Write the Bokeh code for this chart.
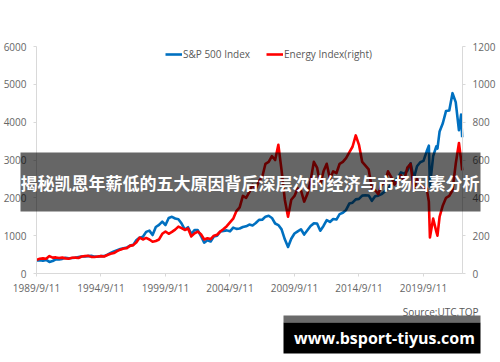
from bokeh.plotting import figure
from bokeh.models import (Range1d, LinearAxis, FixedTicker, Legend, LegendItem,
                          Label, BoxAnnotation)
from bokeh.embed import file_html
from bokeh.resources import INLINE

# ---------------- data ----------------
dates = [
    "1989-09", "1989-12", "1990-03", "1990-06", "1990-09", "1990-12",
    "1991-03", "1991-06", "1991-09", "1991-12", "1992-03", "1992-06",
    "1992-09", "1992-12", "1993-03", "1993-06", "1993-09", "1993-12",
    "1994-03", "1994-06", "1994-09", "1994-12", "1995-03", "1995-06",
    "1995-09", "1995-12", "1996-03", "1996-06", "1996-09", "1996-12",
    "1997-03", "1997-06", "1997-09", "1997-12", "1998-03", "1998-06",
    "1998-09", "1998-12", "1999-03", "1999-06", "1999-09", "1999-12",
    "2000-03", "2000-06", "2000-09", "2000-12", "2001-03", "2001-06",
    "2001-09", "2001-12", "2002-03", "2002-06", "2002-09", "2002-12",
    "2003-03", "2003-06", "2003-09", "2003-12", "2004-03", "2004-06",
    "2004-09", "2004-12", "2005-03", "2005-06", "2005-09", "2005-12",
    "2006-03", "2006-06", "2006-09", "2006-12", "2007-03", "2007-06",
    "2007-09", "2007-12", "2008-03", "2008-06", "2008-09", "2008-12",
    "2009-03", "2009-06", "2009-09", "2009-12", "2010-03", "2010-06",
    "2010-09", "2010-12", "2011-03", "2011-06", "2011-09", "2011-12",
    "2012-03", "2012-06", "2012-09", "2012-12", "2013-03", "2013-06",
    "2013-09", "2013-12", "2014-03", "2014-06", "2014-09", "2014-12",
    "2015-03", "2015-06", "2015-09", "2015-12", "2016-03", "2016-06",
    "2016-09", "2016-12", "2017-03", "2017-06", "2017-09", "2017-12",
    "2018-03", "2018-06", "2018-09", "2018-12", "2019-03", "2019-06",
    "2019-09", "2019-12", "2020-02", "2020-03", "2020-06", "2020-09",
    "2020-10", "2020-12", "2021-03", "2021-06", "2021-09", "2021-12",
    "2022-03", "2022-06", "2022-08", "2022-09",
]

sp500 = [
    345, 353, 339, 358, 306, 330,
    375, 371, 387, 417, 404, 408,
    418, 436, 451, 450, 459, 466,
    445, 444, 462, 459, 500, 544,
    584, 615, 645, 670, 687, 740,
    757, 885, 947, 970, 1101, 1133,
    1017, 1229, 1286, 1372, 1282, 1469,
    1498, 1454, 1436, 1320, 1160, 1224,
    1040, 1148, 1147, 990, 815, 880,
    848, 975, 996, 1112, 1126, 1140,
    1114, 1212, 1180, 1191, 1228, 1248,
    1294, 1270, 1335, 1418, 1420, 1503,
    1526, 1468, 1322, 1280, 1166, 903,
    700, 919, 1057, 1115, 1169, 1030,
    1141, 1257, 1325, 1320, 1131, 1257,
    1408, 1362, 1440, 1426, 1569, 1606,
    1681, 1848, 1872, 1960, 1972, 2058,
    2067, 2063, 1920, 2043, 2059, 2098,
    2168, 2238, 2362, 2423, 2519, 2673,
    2640, 2718, 2913, 2506, 2834, 2941,
    2976, 3230, 3380, 2300, 3100, 3363,
    3300, 3756, 3972, 4297, 4307, 4766,
    4530, 3785, 4200, 3600,
]

energy = [
    72, 78, 80, 78, 92, 84,
    85, 82, 84, 80, 78, 83,
    84, 82, 90, 92, 94, 88,
    87, 90, 92, 90, 98, 104,
    108, 118, 126, 132, 134, 146,
    150, 165, 190, 180, 188, 180,
    168, 172, 180, 210, 222, 210,
    220, 232, 248, 240, 230, 238,
    196, 212, 222, 208, 180, 186,
    182, 200, 205, 222, 235, 250,
    270, 290, 330, 350, 410, 400,
    430, 470, 445, 490, 510, 580,
    590, 620, 600, 680, 545, 390,
    300, 390, 410, 450, 440, 380,
    420, 490, 590, 560, 470, 540,
    580, 500, 540, 530, 580, 590,
    610, 640, 670, 730, 680, 590,
    570, 550, 450, 440, 420, 470,
    480, 540, 510, 470, 490, 520,
    490, 560, 580, 440, 500, 470,
    455, 450, 380, 190, 290, 220,
    200, 300, 360, 400, 410, 440,
    580, 690, 600, 545,
]

x_tick_labels = ["1989/9/11", "1994/9/11", "1999/9/11", "2004/9/11",
                 "2009/9/11", "2014/9/11", "2019/9/11"]
left_ticks = [0, 1000, 2000, 3000, 4000, 5000, 6000]
right_ticks = [0, 200, 400, 600, 800, 1000, 1200]

title_text = "揭秘凯恩年薪低的五大原因背后深层次的经济与市场因素分析"
source_text = "Source:UTC.TOP"
site_text = "www.bsport-tiyus.com"


def month_index(d):
    y, m = d.split("-")
    return (int(y) - 1989) * 12 + int(m) - 9


x = [month_index(d) for d in dates]
x_ticks = [month_index(l.split("/")[0] + "-09") for l in x_tick_labels]

# ---------------- layout ----------------
W, H = 500, 362
XMAX = 396.3
LMAX, RMAX = 6000, 1200
FL, FR, FT, FB = 36, 462, 46, 273  # plot-area edges in window pixels

# the frame covers the whole canvas; ranges are set so the plot area sits at FL..FR, FT..FB
xs = XMAX / (FR - FL)
ls = LMAX / (FB - FT)
rs = RMAX / (FB - FT)


def X(px):
    return (px - FL) * xs


def Y(py):
    return (FB - py) * ls


FONT = "Open Sans"
GRAY = "#666666"
AXIS = "#d9d9d9"

p = figure(width=W, height=H, output_backend="svg", toolbar_location=None,
           x_range=Range1d(X(0), X(W)), y_range=Range1d(Y(H), Y(0)),
           min_border=0, x_axis_location=None, y_axis_location=None)
p.extra_y_ranges = {"right": Range1d((FB - H) * rs, FB * rs)}
p.outline_line_color = None
p.xgrid.visible = False
p.ygrid.visible = False
p.background_fill_color = "white"
p.border_fill_color = "white"


def style_axis(ax, standoff):
    ax.axis_line_color = AXIS
    ax.major_tick_line_color = AXIS
    ax.major_tick_out = 3
    ax.major_tick_in = 0
    ax.minor_tick_line_color = None
    ax.major_label_text_font = FONT
    ax.major_label_text_font_size = "10px"
    ax.major_label_text_color = GRAY
    ax.major_label_standoff = standoff


xaxis = LinearAxis(ticker=FixedTicker(ticks=x_ticks), fixed_location=0,
                   bounds=(0, XMAX),
                   major_label_overrides={t: l for t, l in zip(x_ticks, x_tick_labels)})
style_axis(xaxis, 4)
p.add_layout(xaxis, "below")

laxis = LinearAxis(ticker=FixedTicker(ticks=left_ticks), fixed_location=0,
                   bounds=(0, LMAX))
style_axis(laxis, 7)
p.add_layout(laxis, "left")

raxis = LinearAxis(y_range_name="right", ticker=FixedTicker(ticks=right_ticks),
                   fixed_location=XMAX, bounds=(0, RMAX))
style_axis(raxis, 7)
p.add_layout(raxis, "right")

r_sp = p.line(x, sp500, line_color="#0070C0", line_width=2.6, line_join="round")
r_en = p.line(x, energy, y_range_name="right", line_color="#FF0000",
              line_width=2.6, line_join="round")

legend = Legend(items=[LegendItem(label="S&P 500 Index", renderers=[r_sp]),
                       LegendItem(label="Energy Index(right)", renderers=[r_en])],
                orientation="horizontal", location=(165, H - 61),
                padding=0, margin=0, spacing=16, glyph_width=17, glyph_height=12,
                label_height=12, label_standoff=1, label_text_font=FONT,
                label_text_font_size="10px", label_text_color="#595959",
                border_line_color=None, background_fill_alpha=0)
p.add_layout(legend)

# overlay band with title
p.add_layout(BoxAnnotation(left=X(20), right=X(480), top=Y(152), bottom=Y(211),
                           fill_color="black", fill_alpha=0.6, line_color=None))
p.add_layout(Label(x=X(249.5), y=Y(181.5), text=title_text, text_align="center",
                   text_baseline="middle", text_font="Noto Sans CJK SC",
                   text_font_style="bold", text_font_size="17px", text_color="white"))

# source & site box
p.add_layout(Label(x=X(478), y=Y(311.5), text=source_text, text_align="right",
                   text_baseline="middle", text_font=FONT, text_font_size="10px",
                   text_color="#595959"))
p.add_layout(BoxAnnotation(left=X(283), right=X(480), top=Y(315), bottom=Y(322),
                           fill_color="#6b6b6b", fill_alpha=1, line_color=None))
p.add_layout(BoxAnnotation(left=X(283), right=X(480), top=Y(322), bottom=Y(353),
                           fill_color="black", fill_alpha=1, line_color=None))
p.add_layout(Label(x=X(384), y=Y(337.5), text=site_text, text_align="center",
                   text_baseline="middle", text_font=FONT, text_font_style="bold",
                   text_font_size="16px", text_color="white"))

open("out.html", "w").write(file_html(p, INLINE))
